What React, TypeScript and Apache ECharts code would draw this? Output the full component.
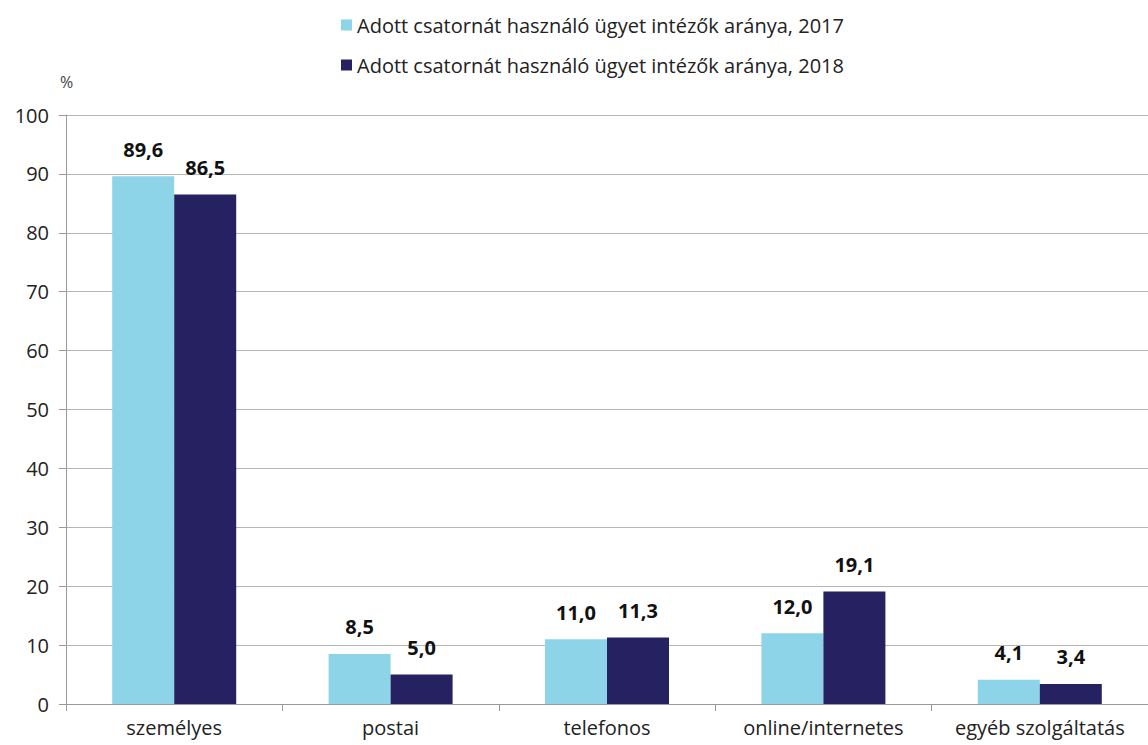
import React, { useEffect, useRef } from "react";
import * as echarts from "echarts";

const categories = ["személyes", "postai", "telefonos", "online/internetes", "egyéb szolgáltatás"];
const series2017 = [89.6, 8.5, 11.0, 12.0, 4.1];
const series2018 = [86.5, 5.0, 11.3, 19.1, 3.4];
const seriesNames = [
  "Adott csatornát használó ügyet intézők aránya, 2017",
  "Adott csatornát használó ügyet intézők aránya, 2018",
];
const yTicks = { min: 0, max: 100, interval: 10 };

const FONT = "'Open Sans', 'Noto Sans', sans-serif";

export default function App() {
  const ref = useRef<HTMLDivElement>(null);
  useEffect(() => {
    document.body.style.margin = "0";
    const chart = echarts.init(ref.current!, null, { renderer: "svg" });
    const fmt = (p: any) => Number(p.value).toFixed(1).replace(".", ",");
    const label = {
      show: true,
      position: "top" as const,
      distance: 17,
      formatter: fmt,
      fontFamily: FONT,
      fontWeight: "bold" as const,
      fontSize: 20,
      color: "#111",
    };
    chart.setOption({
      animation: false,
      backgroundColor: "#fff",
      textStyle: { fontFamily: FONT },
      legend: {
        orient: "vertical",
        left: 336,
        top: 10,
        itemWidth: 11,
        itemHeight: 11,
        itemGap: 20,
        icon: "rect",
        textStyle: { fontSize: 20, color: "#222", fontFamily: FONT },
        data: seriesNames,
      },
      graphic: [
        {
          type: "text",
          left: 60,
          top: 74,
          style: { text: "%", fontSize: 16, fill: "#444", fontFamily: FONT },
        },
      ],
      grid: { left: 66, right: 0, top: 115, bottom: 41, containLabel: false },
      xAxis: {
        type: "category",
        data: categories,
        axisLine: { lineStyle: { color: "#999" } },
        axisTick: { show: true, length: 7, lineStyle: { color: "#999" } },
        axisLabel: { fontSize: 20, color: "#222", margin: 13, fontFamily: FONT, interval: 0 },
      },
      yAxis: {
        type: "value",
        min: yTicks.min,
        max: yTicks.max,
        interval: yTicks.interval,
        axisLine: { show: true, lineStyle: { color: "#999" } },
        axisTick: { show: true, length: 7, lineStyle: { color: "#999" } },
        axisLabel: { fontSize: 20, color: "#222", margin: 17, fontFamily: FONT },
        splitLine: { lineStyle: { color: "#b5b5b5" } },
      },
      series: [
        {
          name: seriesNames[0],
          type: "bar",
          data: series2017,
          barWidth: 62,
          barGap: "0%",
          itemStyle: { color: "#8dd4e8" },
          label,
        },
        {
          name: seriesNames[1],
          type: "bar",
          data: series2018,
          barWidth: 62,
          barGap: "0%",
          itemStyle: { color: "#262262" },
          label,
        },
      ],
    });
    return () => chart.dispose();
  }, []);
  return (
    <div
      ref={ref}
      style={{ position: "absolute", left: 0, top: 0, width: 1148, height: 745 }}
    />
  );
}
